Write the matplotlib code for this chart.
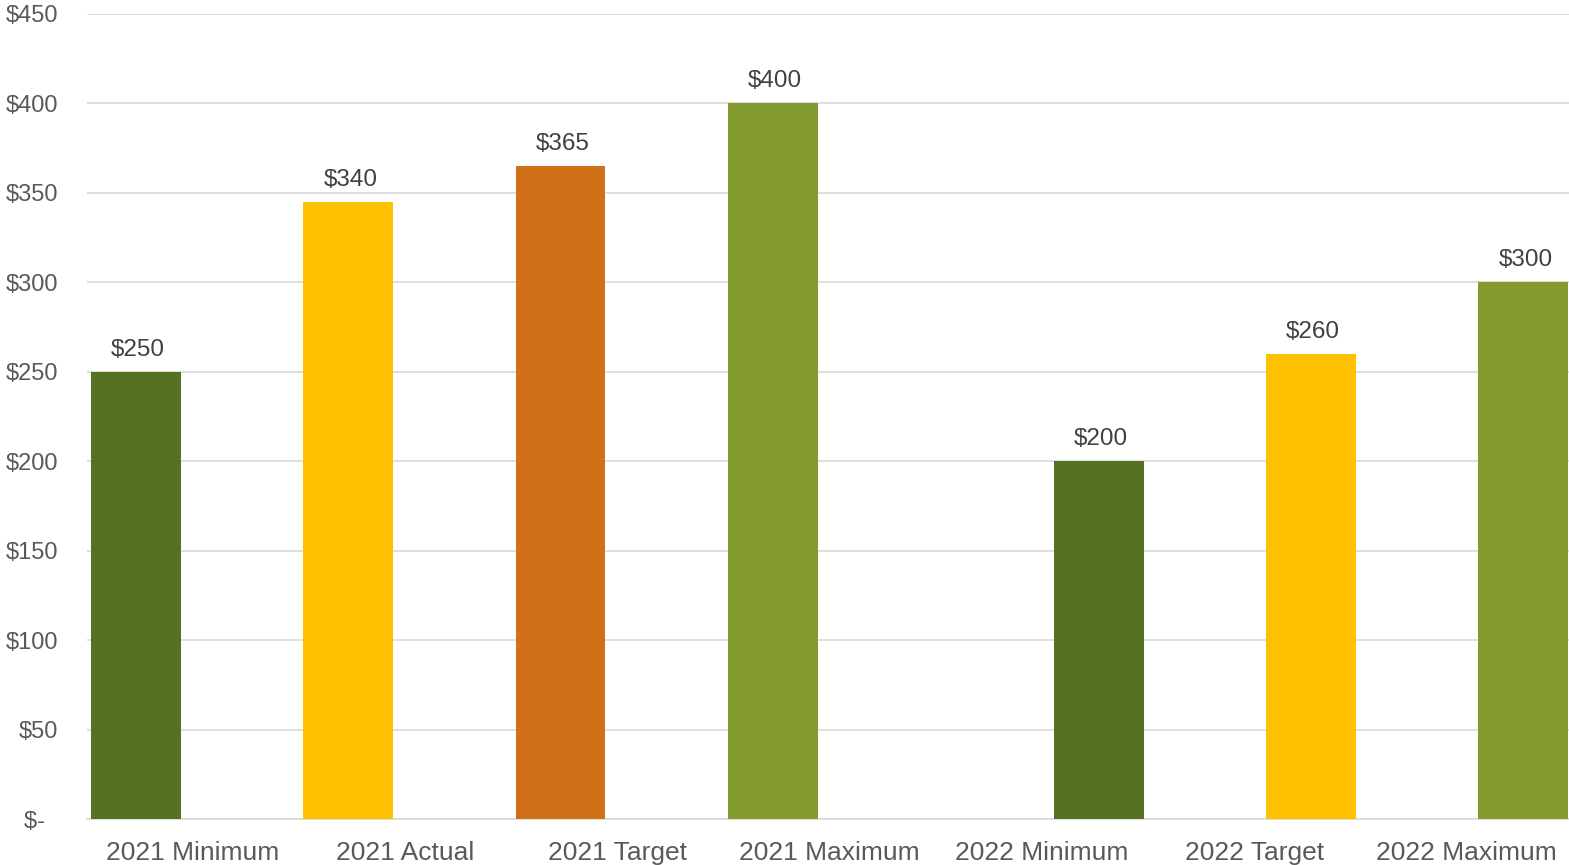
import matplotlib
matplotlib.use("Agg")
import matplotlib.pyplot as plt
import numpy as np

plt.rcParams['font.family'] = ['Liberation Sans', 'DejaVu Sans']

categories = ["2021 Minimum", "2021 Actual", "2021 Target", "2021 Maximum",
              "2022 Minimum", "2022 Target", "2022 Maximum"]
# Series 2021 (left slot of each category) and 2022 (right slot)
values_2021 = [250, 345, 365, 400, None, None, None]
labels_2021 = ["$250", "$340", "$365", "$400", None, None, None]
values_2022 = [None, None, None, None, 200, 260, 300]
labels_2022 = [None, None, None, None, "$200", "$260", "$300"]
colors = ["#557122", "#FFC000", "#D07117", "#829A2E", "#557122", "#FFC000", "#829A2E"]
yticks = [0, 50, 100, 150, 200, 250, 300, 350, 400, 450]
ytick_labels = ["$-  ", "$50", "$100", "$150", "$200", "$250", "$300", "$350", "$400", "$450"]

fig = plt.figure(figsize=(15.69, 8.65), dpi=100)
W, H = 1569, 865
ax = fig.add_axes([87 / W, 1 - 819 / H, (W - 87) / W, (819 - 14) / H])

bw = 0.424
off = 0.2686
x = np.arange(len(categories))

for i in range(len(categories)):
    for vals, labs, sgn in ((values_2021, labels_2021, -1), (values_2022, labels_2022, 1)):
        v = vals[i]
        if v is None:
            continue
        xc = x[i] + sgn * off
        ax.bar(xc, v, width=bw, color=colors[i], zorder=3)
        ax.annotate(labs[i], (xc, v), xytext=(1.5, 8), textcoords="offset points",
                    ha="center", va="bottom", fontsize=17.5, color="#404040")

ax.set_xlim(-0.5, -0.5 + (W - 87) / 212.2)
ax.set_ylim(0, 450)
ax.set_yticks(yticks)
ax.set_yticklabels(ytick_labels)
ax.set_xticks(x)
ax.set_xticklabels(categories)
ax.grid(axis="y", color="#D9D9D9", linewidth=1.2, zorder=0)
ax.tick_params(axis="y", length=0, pad=21, labelsize=17, labelcolor="#595959")
ax.tick_params(axis="x", length=0, pad=16, labelsize=19, labelcolor="#595959")
for s in ["top", "right", "left"]:
    ax.spines[s].set_visible(False)
ax.spines["bottom"].set_color("#D9D9D9")
ax.spines["bottom"].set_linewidth(1.2)
ax.spines["bottom"].set_zorder(2)

fig.savefig("out.png", dpi=100, facecolor="white")
